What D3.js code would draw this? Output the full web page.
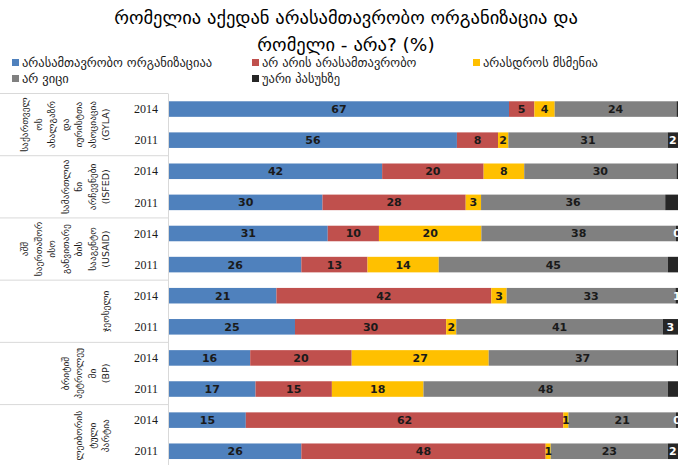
<!DOCTYPE html>
<html><head><meta charset="utf-8">
<script src="https://cdn.jsdelivr.net/npm/d3@7"></script>
<style>body{margin:0;background:#fff}</style>
</head><body>
<svg id="c" width="685" height="465"></svg>
<script>
const titleLines = ["რომელია აქედან არასამთავრობო ორგანიზაცია და", "რომელი - არა? (%)"];
const seriesNames = ["არასამთავრობო ორგანიზაციაა", "არ არის არასამთავრობო", "არასდროს მსმენია", "არ ვიცი", "უარი პასუხზე"];
const seriesColors = ["#4f81bd", "#c0504d", "#ffc000", "#808080", "#262626"];
const groupLabels = [
  ["საქართველ", "ოს", "ახალგაზრ", "და", "იურისტთა", "ასოციაცია", "(GYLA)"],
  ["სამართლია", "ნი", "არჩევნები", "(ISFED)"],
  ["აშშ", "საერთაშორ", "ისო", "განვითარე", "ბის", "სააგენტო", "(USAID)"],
  ["ჯეოსელი"],
  ["ბრიტიშ", "პეტროლეუ", "მი", "(BP)"],
  ["ლეიბორის", "ტული", "პარტია"]
];
const years = ["2014", "2011"];
const ngo     = [67, 56, 42, 30, 31, 26, 21, 25, 16, 17, 15, 26];
const notNgo  = [5, 8, 20, 28, 10, 13, 42, 30, 20, 15, 62, 48];
const never   = [4, 2, 8, 3, 20, 14, 3, 2, 27, 18, 1, 1];
const dontKnow= [24, 31, 30, 36, 38, 45, 33, 41, 37, 48, 21, 23];
const refused = [0.3, 2, 0.3, 2.5, 0.4, 2, 0.5, 3, 0.3, 2, 0.4, 2];
const refusedLabelShown = [false, true, false, false, true, false, true, true, false, false, true, true];

const svg = d3.select("#c");
const fontGe = "'DejaVu Sans', sans-serif";

// title
svg.selectAll("text.title").data(titleLines).join("text")
  .attr("x", 346).attr("y", (d,i) => 24 + i*27)
  .attr("text-anchor", "middle").attr("font-family", fontGe)
  .attr("font-size", 18.5).attr("fill", "#000").text(d => d);

// legend
const legendPos = [[12,63],[252,63],[473,63],[12,79],[252,79]];
const lg = svg.selectAll("g.lg").data(seriesNames).join("g")
  .attr("transform", (d,i) => `translate(${legendPos[i][0]},${legendPos[i][1]})`);
lg.append("rect").attr("x",0).attr("y",-4).attr("width",7).attr("height",7).attr("fill",(d,i)=>seriesColors[i]);
lg.append("text").attr("x",10).attr("y",0).attr("dy","0.35em")
  .attr("font-family", fontGe).attr("font-size",12.5).attr("fill","#1a1a1a").text(d=>d);

// rows
const rows = [];
groupLabels.forEach((g,gi) => years.forEach((y,yi) => rows.push(gi*2+yi)));
const yScale = d3.scaleBand().domain(rows).range([93.5, 466.8]).paddingInner(0.5).paddingOuter(0.25);
const xScale = d3.scaleLinear().domain([0,1]).range([169, 678]);

const data = rows.map(i => {
  const vals = [ngo[i], notNgo[i], never[i], dontKnow[i], refused[i]];
  const total = d3.sum(vals);
  let cum = 0;
  return vals.map((v,k) => { const s = {row:i, k, v, x0: cum/total, x1: (cum+v)/total}; cum += v; return s; });
});

// separators
const sepYs = d3.range(groupLabels.length+1).map(g => g===groupLabels.length ? 466.8 : yScale(g*2) - yScale.step()*0.25);
svg.selectAll("line.sep").data(sepYs).join("line")
  .attr("x1",0).attr("x2",168).attr("y1",d=>d).attr("y2",d=>d)
  .attr("stroke","#d9d9d9").attr("stroke-width",1);
svg.append("line").attr("x1",168.5).attr("x2",168.5).attr("y1",93.5).attr("y2",466.8).attr("stroke","#d9d9d9");

// bars
svg.append("clipPath").attr("id","clip").append("rect").attr("x",0).attr("y",0).attr("width",680).attr("height",465);
const segs = data.flat();
svg.selectAll("rect.seg").data(segs).join("rect")
  .attr("x", d => xScale(d.x0)).attr("width", d => Math.max(0, xScale(d.x1)-xScale(d.x0)))
  .attr("y", d => yScale(d.row)).attr("height", yScale.bandwidth())
  .attr("fill", d => seriesColors[d.k]);

const labelSegs = segs.filter(d => d.k < 4 || refusedLabelShown[d.row]);
svg.append("g").attr("clip-path","url(#clip)").selectAll("text").data(labelSegs).join("text")
  .attr("x", d => (xScale(d.x0)+xScale(d.x1))/2)
  .attr("y", d => yScale(d.row) + yScale.bandwidth()/2).attr("dy","0.36em")
  .attr("text-anchor","middle").attr("font-family","'DejaVu Sans', sans-serif")
  .attr("font-weight","bold").attr("font-size",11)
  .attr("fill", d => d.k === 4 ? "#ffffff" : "#1a1a1a")
  .text(d => Math.round(d.v));

// year labels
svg.selectAll("text.yr").data(rows).join("text")
  .attr("x", 158).attr("y", d => yScale(d) + yScale.bandwidth()/2).attr("dy","0.35em")
  .attr("text-anchor","end").attr("font-family","'Liberation Serif', serif").attr("font-size",12)
  .attr("fill","#1a1a1a").text(d => years[d%2]);

// group labels (rotated, multi-line)
const lineStep = 13.5;
groupLabels.forEach((lines, gi) => {
  const cy = (yScale(gi*2) + yScale(gi*2+1) + yScale.bandwidth())/2;
  const n = lines.length;
  lines.forEach((ln, li) => {
    const cx = 106 - (n-1-li)*lineStep;
    svg.append("text")
      .attr("transform", `translate(${cx},${cy}) rotate(-90)`)
      .attr("text-anchor","middle").attr("dy","0.35em")
      .attr("font-family", fontGe).attr("font-size",9.5).attr("fill","#1a1a1a")
      .text(ln);
  });
});
</script>
</body></html>
